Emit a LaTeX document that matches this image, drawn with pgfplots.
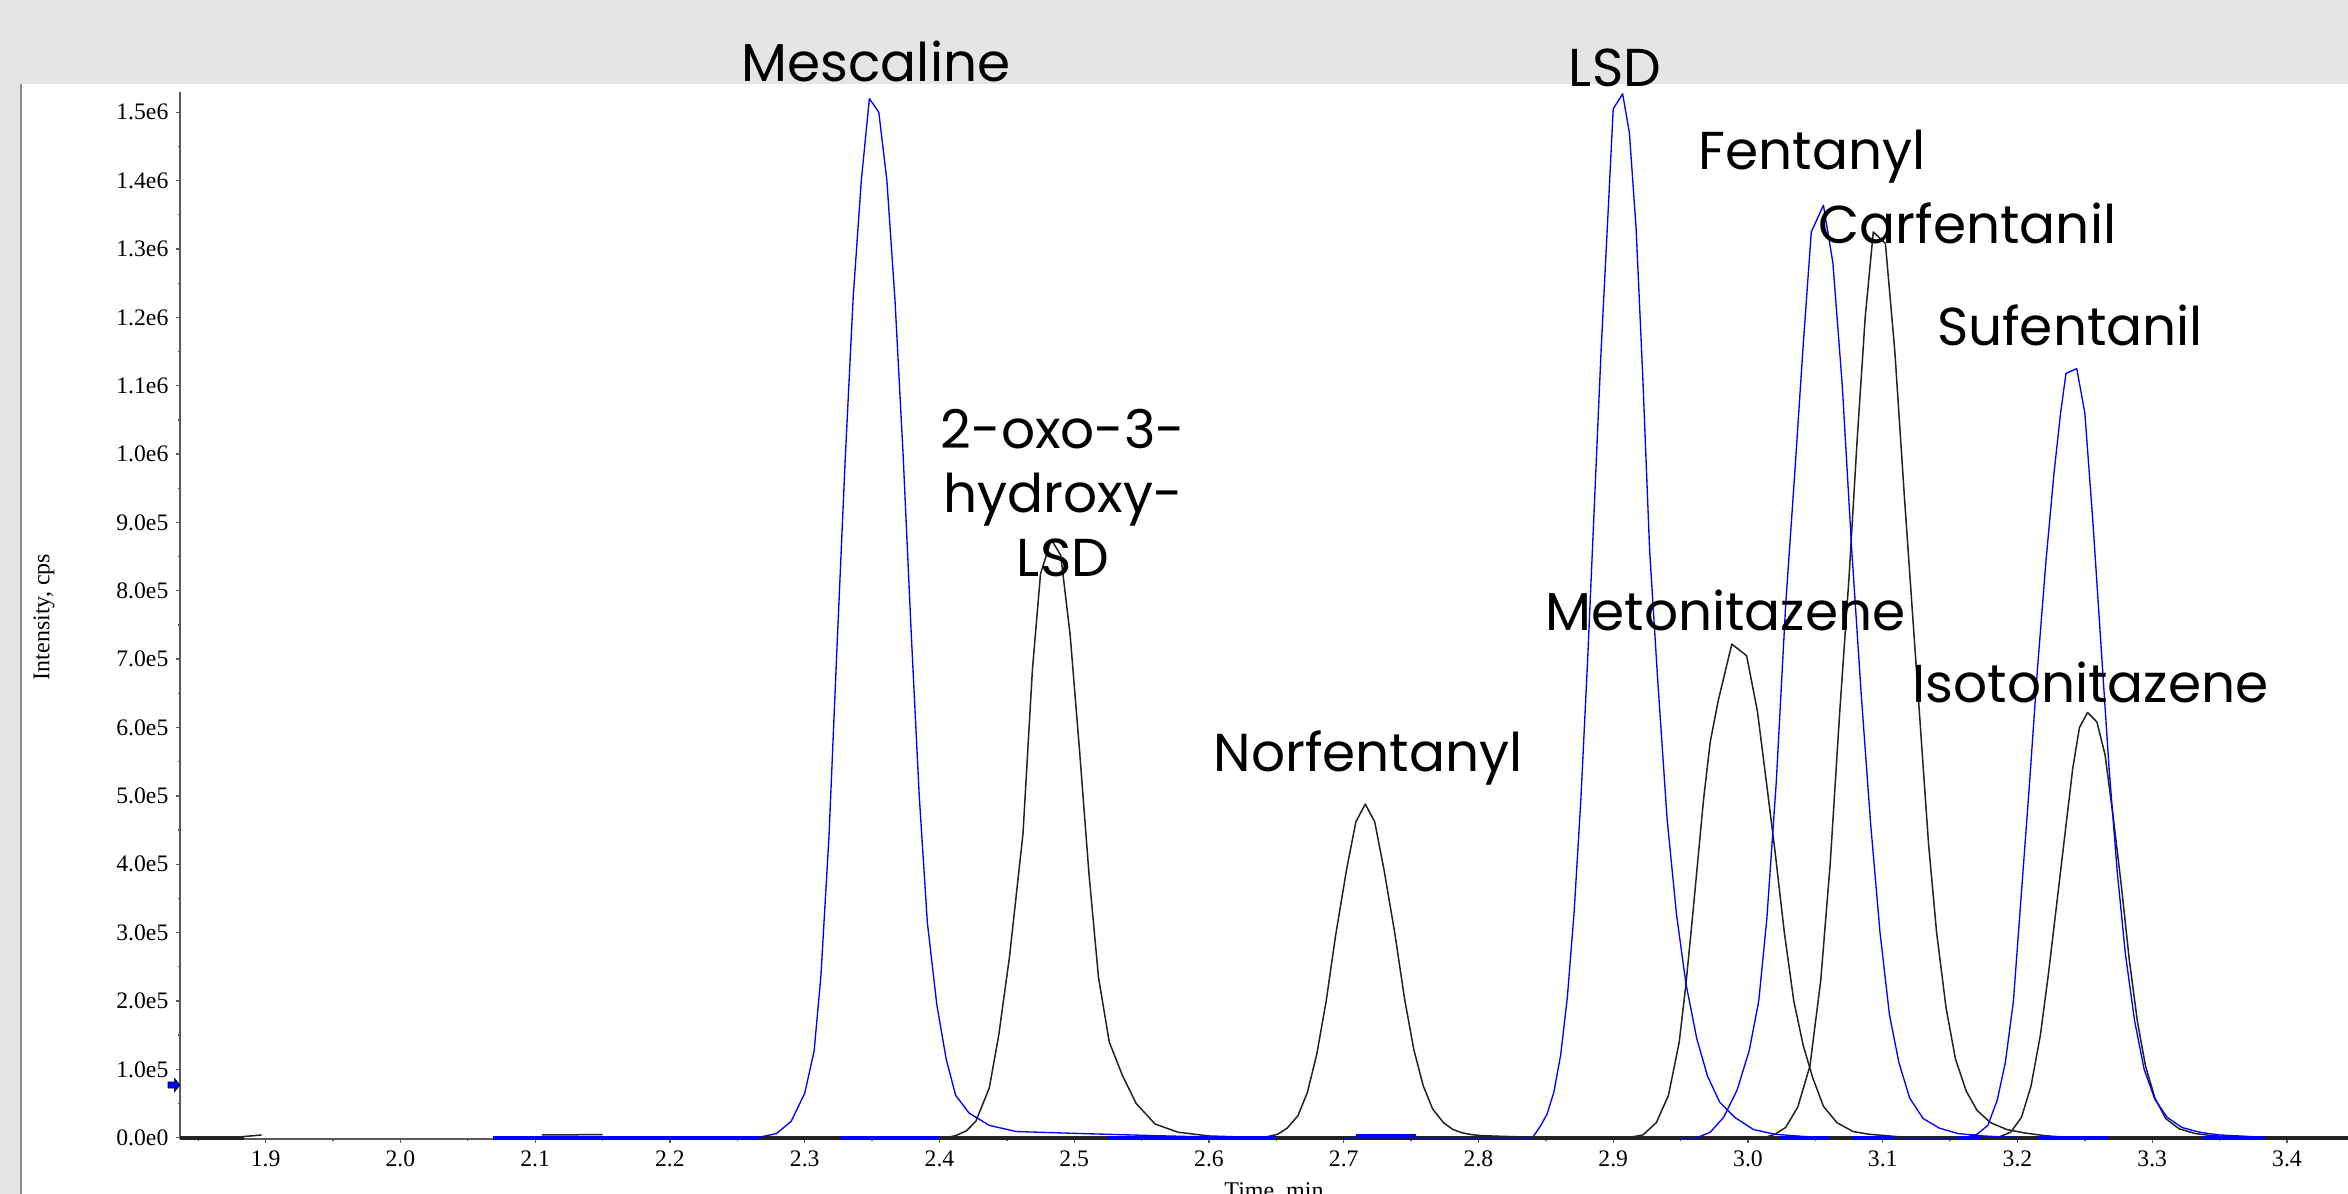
\documentclass[border=0pt]{standalone}
\usepackage{fontspec}
\setmainfont{Liberation Serif}
\newfontfamily\annofont{Poppins}
\usepackage{pgfplots}
\pgfplotsset{compat=1.18}
\definecolor{bandgray}{HTML}{E5E5E5}
\definecolor{framegray}{HTML}{8C8C8C}
\definecolor{axisgray}{HTML}{5A5A5A}
\definecolor{traceblue}{HTML}{0000FF}
\definecolor{traceblack}{HTML}{222222}
\pgfdeclareplotmark{rarrow}{%
  \pgfpathmoveto{\pgfqpoint{0pt}{0pt}}%
  \pgfpathlineto{\pgfqpoint{-1.7pt}{2.0pt}}%
  \pgfpathlineto{\pgfqpoint{-1.7pt}{0.9pt}}%
  \pgfpathlineto{\pgfqpoint{-3.6pt}{0.9pt}}%
  \pgfpathlineto{\pgfqpoint{-3.6pt}{-0.9pt}}%
  \pgfpathlineto{\pgfqpoint{-1.7pt}{-0.9pt}}%
  \pgfpathlineto{\pgfqpoint{-1.7pt}{-2.0pt}}%
  \pgfpathclose
  \pgfusepathqfillstroke}
\pgfplotsset{
  blk/.style={traceblack, line width=0.45pt, mark=none, line join=round},
  blu/.style={traceblue, line width=0.4pt, mark=none, line join=round},
  blkbase/.style={traceblack, line width=1.1pt, mark=none},
  blubase/.style={traceblue, line width=1.1pt, mark=none},
}
\newcommand{\annosize}{\annofont\fontsize{16}{19}\selectfont}
\begin{document}
\begin{tikzpicture}
\fill[white] (0,0) rectangle (704.4pt,358.2pt);
\fill[bandgray] (0,333pt) rectangle (704.4pt,358.2pt);
\fill[bandgray] (0,0) rectangle (6pt,333pt);
\draw[framegray, line width=0.5pt] (6.3pt,0) -- (6.3pt,333pt);
\begin{axis}[
  at={(54pt,16.5pt)}, anchor=south west,
  width=650.4pt, height=314.1pt, scale only axis,
  xmin=1.8364, xmax=3.4453, ymin=-1900, ymax=1529700,
  axis x line*=bottom, axis y line*=left,
  axis line style={axisgray, line width=0.5pt},
  xtick={1.9,2,2.1,2.2,2.3,2.4,2.5,2.6,2.7,2.8,2.9,3,3.1,3.2,3.3,3.4},
  xticklabels={1.9,2.0,2.1,2.2,2.3,2.4,2.5,2.6,2.7,2.8,2.9,3.0,3.1,3.2,3.3,3.4},
  minor xtick={1.85,1.95,2.05,2.15,2.25,2.35,2.45,2.55,2.65,2.75,2.85,2.95,3.05,3.15,3.25,3.35},
  ytick={0,100000,200000,300000,400000,500000,600000,700000,800000,900000,1000000,1100000,1200000,1300000,1400000,1500000},
  yticklabels={0.0e0,1.0e5,2.0e5,3.0e5,4.0e5,5.0e5,6.0e5,7.0e5,8.0e5,9.0e5,1.0e6,1.1e6,1.2e6,1.3e6,1.4e6,1.5e6},
  minor ytick={50000,150000,250000,350000,450000,550000,650000,750000,850000,950000,1050000,1150000,1250000,1350000,1450000},
  scaled y ticks=false, scaled x ticks=false,
  tick align=outside, major tick length=1.2pt, minor tick length=0.5pt,
  tick style={axisgray, line width=0.4pt},
  ticklabel style={font=\fontsize{7.1}{8}\selectfont},
  yticklabel style={inner sep=0pt, xshift=-2.1pt},
  xticklabel style={inner sep=0pt, yshift=-2.1pt},
  clip=false,
]
% baseline pieces
\addplot[blk] coordinates {(1.8364,0) (1.876,0) (1.880,1000) (1.897,4000)};
\addplot[blkbase] coordinates {(1.8364,0) (1.884,0)};
\addplot[blk] coordinates {(2.105,4000) (2.150,4500)};
\addplot[blkbase] coordinates {(2.148,0) (2.185,0)};
\addplot[blubase] coordinates {(2.069,0) (2.265,0)};
\addplot[blkbase] coordinates {(2.265,0) (3.4453,0)};
% black traces
\addplot[blk] coordinates {(2.330,0)(2.405,0)(2.412,3000)(2.420,10000)(2.427,24000)(2.437,73000)(2.444,150000)(2.452,265000)(2.462,445000)(2.469,685000)(2.475,825000)(2.483,875000)(2.490,852000)(2.497,735000)(2.504,565000)(2.511,385000)(2.518,235000)(2.526,140000)(2.536,90000)(2.546,50000)(2.560,20000)(2.577,8000)(2.600,2500)(2.640,0)};
\addplot[blk] coordinates {(2.560,0)(2.640,0)(2.651,5000)(2.658,14000)(2.666,32000)(2.673,66000)(2.680,122000)(2.687,200000)(2.694,296000)(2.702,391000)(2.709,462000)(2.716,488000)(2.723,462000)(2.730,391000)(2.738,298000)(2.745,205000)(2.752,129000)(2.759,76000)(2.766,42000)(2.774,22000)(2.781,12000)(2.788,7000)(2.795,4500)(2.802,3000)(2.817,2000)(2.850,0)};
\addplot[blk] coordinates {(2.850,0)(2.905,0)(2.915,1500)(2.922,4000)(2.932,22000)(2.941,62000)(2.949,140000)(2.954,225000)(2.959,326000)(2.967,494000)(2.972,579000)(2.978,640000)(2.988,722000)(2.999,705000)(3.007,624000)(3.014,515000)(3.020,420000)(3.027,300000)(3.034,200000)(3.041,135000)(3.048,88000)(3.056,46000)(3.066,22000)(3.078,9000)(3.090,5000)(3.105,2500)(3.120,0)};
\addplot[blk] coordinates {(3.000,0)(3.012,0)(3.020,5000)(3.028,15000)(3.037,45000)(3.046,105000)(3.054,230000)(3.061,400000)(3.068,620000)(3.075,820000)(3.081,1020000)(3.087,1200000)(3.093,1325000)(3.102,1308000)(3.109,1150000)(3.116,940000)(3.122,770000)(3.128,600000)(3.134,430000)(3.140,300000)(3.147,190000)(3.154,115000)(3.162,68000)(3.170,40000)(3.180,22000)(3.192,12000)(3.205,7000)(3.220,3000)(3.240,0)};
\addplot[blk] coordinates {(3.120,0)(3.185,0)(3.195,8000)(3.203,30000)(3.210,75000)(3.217,150000)(3.223,240000)(3.229,340000)(3.235,440000)(3.241,540000)(3.246,600000)(3.252,622000)(3.259,608000)(3.265,560000)(3.271,470000)(3.277,370000)(3.283,260000)(3.289,170000)(3.295,105000)(3.302,58000)(3.310,28000)(3.320,13000)(3.332,6000)(3.345,3000)(3.360,1000)(3.400,0)};
% blue baseline segments
\addplot[blubase] coordinates {(2.327,0) (2.400,0)};
\addplot[blubase] coordinates {(2.525,0) (2.649,0)};
\addplot[blubase] coordinates {(2.709,2000) (2.754,2000)};
\addplot[blubase] coordinates {(3.024,0) (3.060,0)};
\addplot[blubase] coordinates {(3.077,0) (3.108,0)};
\addplot[blubase] coordinates {(3.156,0) (3.173,0)};
\addplot[blubase] coordinates {(3.215,0) (3.267,0)};
\addplot[blubase] coordinates {(3.338,0) (3.383,0)};
% blue traces
\addplot[blu] coordinates {(2.240,0)(2.260,0)(2.267,1000)(2.279,6000)(2.290,24000)(2.300,65000)(2.307,127000)(2.312,236000)(2.318,440000)(2.324,719000)(2.330,990000)(2.336,1230000)(2.342,1400000)(2.348,1520000)(2.355,1500000)(2.361,1400000)(2.367,1225000)(2.373,1000000)(2.379,740000)(2.385,500000)(2.391,315000)(2.398,195000)(2.405,115000)(2.412,62000)(2.422,36000)(2.437,18000)(2.457,9000)(2.506,6000)(2.560,3000)(2.620,0)};
\addplot[blu] coordinates {(2.700,0)(2.840,0)(2.846,17000)(2.851,35000)(2.856,67000)(2.861,121000)(2.866,206000)(2.871,330000)(2.876,495000)(2.881,698000)(2.886,925000)(2.891,1151000)(2.896,1346000)(2.900,1505000)(2.907,1527000)(2.912,1470000)(2.917,1330000)(2.922,1110000)(2.927,860000)(2.933,670000)(2.940,466000)(2.947,326000)(2.954,225000)(2.962,145000)(2.970,90000)(2.979,52000)(2.990,30000)(3.004,12000)(3.020,5000)(3.040,2000)(3.060,0)};
\addplot[blu] coordinates {(2.950,0)(2.962,0)(2.972,8000)(2.982,30000)(2.992,70000)(3.001,128000)(3.008,200000)(3.014,320000)(3.021,520000)(3.028,780000)(3.035,980000)(3.041,1160000)(3.047,1325000)(3.056,1364000)(3.063,1280000)(3.070,1100000)(3.077,860000)(3.084,650000)(3.091,460000)(3.098,300000)(3.105,180000)(3.112,110000)(3.120,58000)(3.130,28000)(3.142,14000)(3.156,6000)(3.175,2500)(3.200,0)};
\addplot[blu] coordinates {(3.100,0)(3.160,0)(3.170,5000)(3.178,18000)(3.185,55000)(3.191,110000)(3.197,200000)(3.203,360000)(3.209,520000)(3.215,690000)(3.221,840000)(3.227,970000)(3.232,1060000)(3.236,1118000)(3.244,1125000)(3.250,1060000)(3.256,900000)(3.262,720000)(3.268,540000)(3.274,390000)(3.280,270000)(3.287,170000)(3.294,100000)(3.302,56000)(3.311,30000)(3.322,15000)(3.335,8000)(3.350,4000)(3.370,2000)(3.385,0)};
% threshold marker
\addplot[only marks, mark=rarrow, mark options={fill=traceblue, draw=black, line width=0.2pt}] coordinates {(1.8364,77000)};
\end{axis}
\node[rotate=90, font=\fontsize{7.2}{8}\selectfont] at (13.2pt,173.1pt) {Intensity, cps};
\node[anchor=base, font=\fontsize{7.2}{8}\selectfont] at (382.2pt,-1.5pt) {Time, min};
\node[anchor=base, font=\annosize] at (262.8pt,333.6pt) {Mescaline};
\node[anchor=base, font=\annosize] at (484.5pt,332.2pt) {LSD};
\node[anchor=base, font=\annosize] at (543.6pt,307.2pt) {Fentanyl};
\node[anchor=base, font=\annosize] at (590.25pt,285.2pt) {Carfentanil};
\node[anchor=base, font=\annosize] at (621pt,254.4pt) {Sufentanil};
\node[anchor=base, font=\annosize] at (318.9pt,223.6pt) {2-oxo-3-};
\node[anchor=base, font=\annosize] at (318.9pt,204.4pt) {hydroxy-};
\node[anchor=base, font=\annosize] at (318.9pt,185.2pt) {LSD};
\node[anchor=base, font=\annosize] at (517.65pt,169.1pt) {Metonitazene};
\node[anchor=base, font=\annosize] at (627.15pt,147.3pt) {Isotonitazene};
\node[anchor=base, font=\annosize] at (410.4pt,126.7pt) {Norfentanyl};
\pgfresetboundingbox
\useasboundingbox (0,0) rectangle (704.4pt,358.2pt);
\end{tikzpicture}
\end{document}
